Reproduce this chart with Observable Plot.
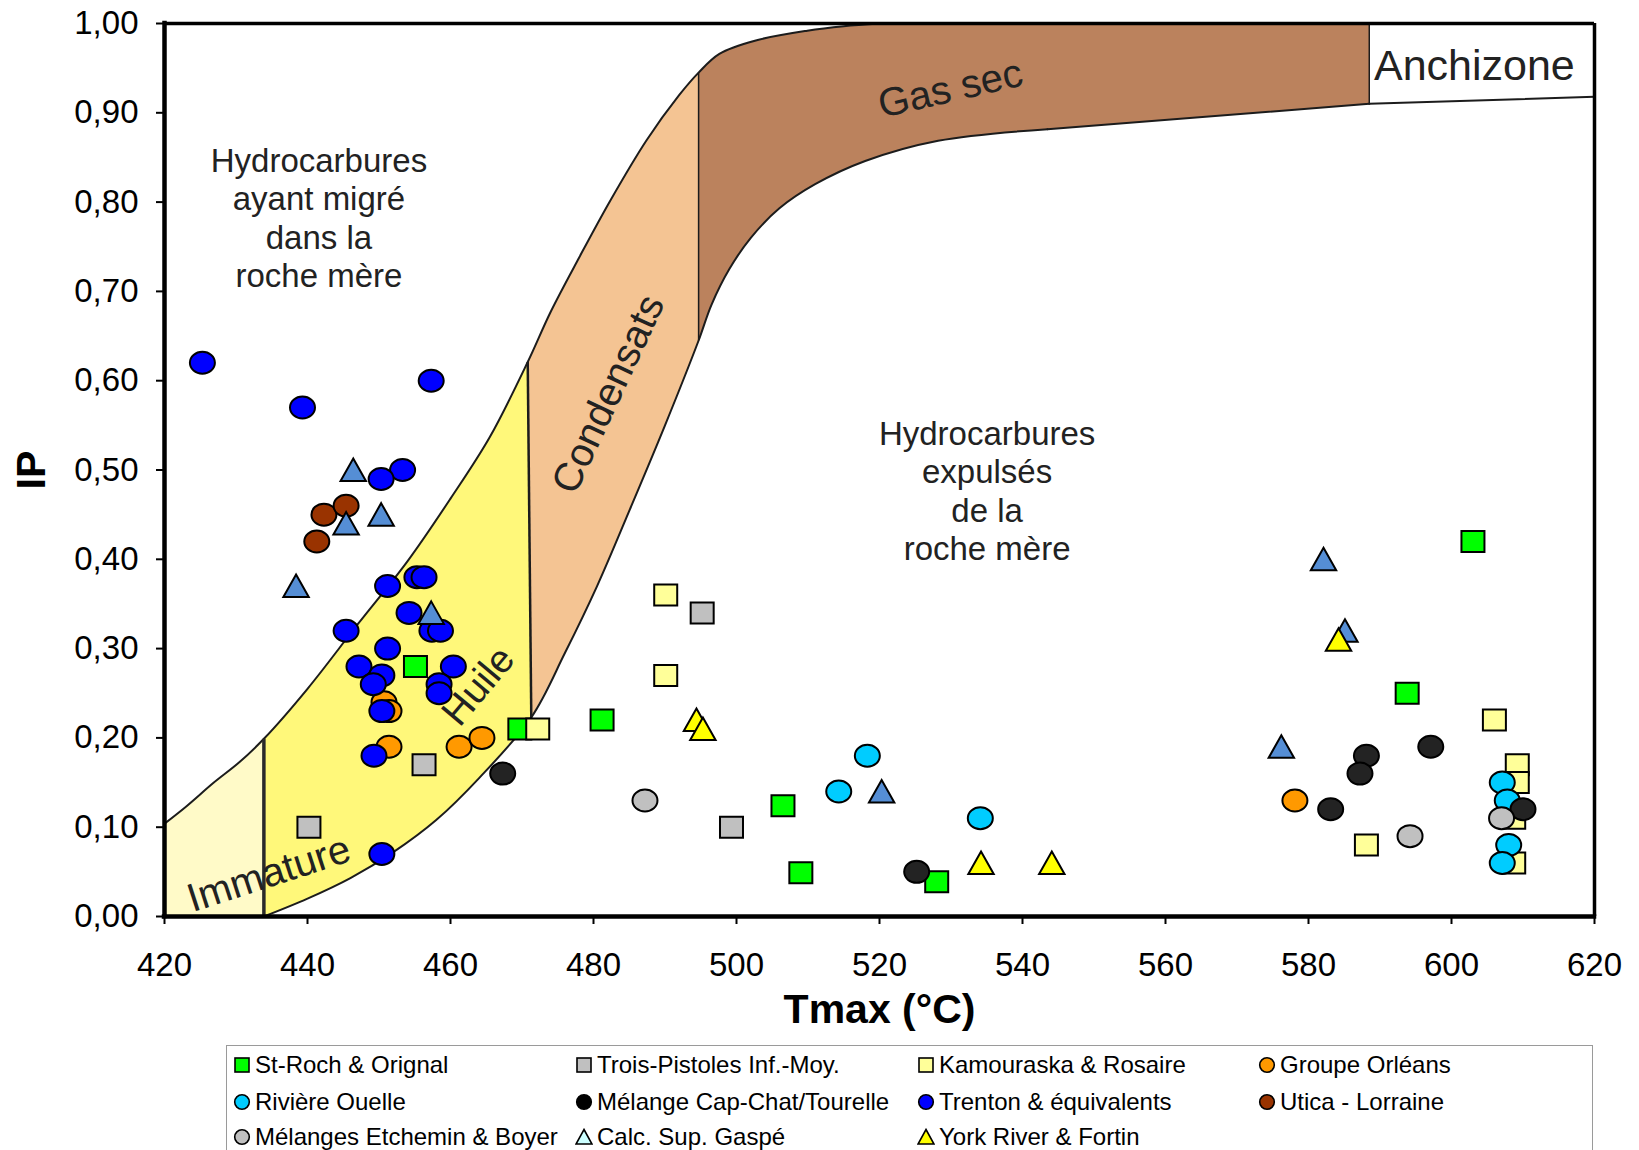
<!DOCTYPE html>
<html><head><meta charset="utf-8">
<script src="https://cdn.jsdelivr.net/npm/d3@7"></script>
<script src="https://cdn.jsdelivr.net/npm/@observablehq/plot@0.6"></script>
<style>
html,body{margin:0;padding:0;background:#fff;}
body{width:1639px;height:1150px;position:relative;overflow:hidden;font-family:"Liberation Sans",Arial,sans-serif;}
#chart{position:absolute;left:0;top:0;}
#legend{position:absolute;left:226px;top:1045px;width:1367px;height:130px;border:1.5px solid #9a9a9a;box-sizing:border-box;background:#fff;}
.item{position:absolute;display:flex;align-items:center;font-size:24px;color:#000;white-space:nowrap;height:30px;line-height:30px;}
.item svg{margin-right:4px;flex:none;}
</style></head><body>
<div id="chart"></div>
<div id="legend"></div>
<script>
// ---------- axes ----------
const xTicks = [420, 440, 460, 480, 500, 520, 540, 560, 580, 600, 620];
const yTicks = [0, 0.1, 0.2, 0.3, 0.4, 0.5, 0.6, 0.7, 0.8, 0.9, 1.0];
const xLabel = "Tmax (°C)";
const yLabel = "IP";

// ---------- series ----------
const seriesNames = ["St-Roch & Orignal", "Trois-Pistoles Inf.-Moy.", "Kamouraska & Rosaire", "Groupe Orléans",
  "Rivière Ouelle", "Mélange Cap-Chat/Tourelle", "Trenton & équivalents", "Utica - Lorraine",
  "Mélanges Etchemin & Boyer", "Calc. Sup. Gaspé", "York River & Fortin"];
const seriesColors = ["#00ff00", "#c0c0c0", "#ffff99", "#ff9900", "#00ccff", "#232323", "#0000ff", "#993300", "#c0c0c0", "#558ed5", "#ffff00"];
const legendColors = ["#00ff00", "#c0c0c0", "#ffff99", "#ff9900", "#00ccff", "#000000", "#0000ff", "#993300", "#c0c0c0", "#ccffff", "#ffff00"];
const seriesShapes = ["square", "square", "square", "circle", "circle", "circle", "circle", "circle", "circle", "triangle", "triangle"];

// [Tmax, IP]
const stRoch = [[455.1,0.28],[469.7,0.21],[481.2,0.22],[506.5,0.124],[509.0,0.049],[528.0,0.039],[593.8,0.25],[603.0,0.42]];
const troisPistoles = [[440.2,0.10],[456.3,0.17],[495.2,0.34],[499.3,0.10]];
const kamouraska = [[472.2,0.21],[490.1,0.36],[490.1,0.27],[588.1,0.08],[606.0,0.22],[609.2,0.17],[609.2,0.15],[608.7,0.11],[608.7,0.06]];
const orleans = [[450.7,0.24],[451.4,0.23],[451.4,0.19],[461.2,0.19],[464.4,0.20],[578.1,0.13]];
const riviereOuelle = [[518.3,0.18],[514.3,0.14],[534.1,0.11],[607.1,0.15],[607.8,0.13],[608.0,0.08],[607.1,0.06]];
const capChat = [[467.3,0.16],[525.2,0.05],[588.1,0.18],[587.2,0.16],[583.1,0.12],[597.1,0.19],[610.0,0.12]];
const trenton = [[425.3,0.62],[439.3,0.57],[457.3,0.60],[453.3,0.50],[450.3,0.49],[451.2,0.37],[455.3,0.38],[456.3,0.38],
  [445.4,0.32],[454.2,0.34],[457.4,0.32],[458.6,0.32],[451.2,0.30],[447.2,0.28],[450.4,0.27],[449.2,0.26],[460.4,0.28],
  [458.4,0.26],[458.4,0.25],[450.4,0.23],[449.3,0.18],[450.4,0.07]];
const utica = [[442.3,0.45],[445.4,0.46],[441.3,0.42]];
const etchemin = [[487.2,0.13],[594.2,0.09],[607.0,0.11]];
const gaspe = [[446.4,0.50],[450.3,0.45],[445.4,0.44],[438.4,0.37],[457.3,0.34],[520.3,0.14],[582.1,0.40],[585.1,0.32],[576.2,0.19]];
const yorkRiver = [[494.4,0.22],[495.3,0.21],[534.2,0.06],[544.1,0.06],[584.2,0.31]];
const seriesData = [stRoch, troisPistoles, kamouraska, orleans, riviereOuelle, capChat, trenton, utica, etchemin, gaspe, yorkRiver];

// ---------- maturity zones (boundaries, [Tmax, IP]) ----------
const immatureUpper = [[420,0.104],[423,0.123],[426.9,0.15],[430.5,0.173],[433.9,0.199]];
const huileUpper = [[433.9,0.199],[440,0.255],[447,0.327],[454,0.398],[460,0.468],[465.5,0.537],[470.8,0.621]];
const huileLower = [[433.9,0.0],[440,0.02],[446,0.043],[452,0.072],[458,0.108],[464,0.155],[471.3,0.223]];
const condUpper = [[470.8,0.621],[474,0.677],[478,0.738],[482.3,0.801],[487.4,0.869],[492,0.92],[494.7,0.945]];
const condLower = [[471.3,0.223],[476,0.295],[480.5,0.37],[485.2,0.458],[490,0.55],[494.7,0.645]];
const gasUpper = [[494.7,0.945],[497.6,0.966],[502.7,0.981],[509.9,0.992],[515,0.997],[520,1.0]];
const gasLower = [[494.7,0.645],[496.5,0.685],[499,0.725],[502,0.76],[506,0.793],[511,0.82],[518,0.846],[528.2,0.8687],[543.5,0.8817]];
const gasLowerStraight = [[543.5,0.8817],[588.5,0.91]];
const anchizoneLine = [[588.5,0.91],[620,0.918]];
const anchizoneTop = [[520,1.0],[588.5,1.0]];

const zoneLabels = ["Immature", "Huile", "Condensats", "Gas sec", "Anchizone"];
const zoneLabelT = [434.6, 463.9, 482.1, 529.9, 603.2];
const zoneLabelIP = [0.0475, 0.258, 0.585, 0.9265, 0.952];

const noteTexts = ["Hydrocarbures\nayant migré\ndans la\nroche mère", "Hydrocarbures\nexpulsés\nde la\nroche mère"];
const noteT = [441.6, 535.05];
const noteIP = [0.783, 0.4773];

// ---------- helpers ----------
const fmtIP = d => d.toFixed(2).replace(".", ",");
// polygon from segments; duplicate segment ends so the curve keeps sharp corners
function polygon(...segs) {
  const out = [];
  for (const s of segs) { out.push(s[0], ...s, s[s.length - 1]); }
  return out;
}
const rev = a => a.slice().reverse();
const K = 0.5523;
const shapes = {
  circle: {draw(ctx) { const rx = 12.5, ry = 11;
    ctx.moveTo(rx, 0);
    ctx.bezierCurveTo(rx, K*ry, K*rx, ry, 0, ry);
    ctx.bezierCurveTo(-K*rx, ry, -rx, K*ry, -rx, 0);
    ctx.bezierCurveTo(-rx, -K*ry, -K*rx, -ry, 0, -ry);
    ctx.bezierCurveTo(K*rx, -ry, rx, -K*ry, rx, 0);
    ctx.closePath(); }},
  square: {draw(ctx) { ctx.rect(-11.5, -10.5, 23, 21); }},
  triangle: {draw(ctx) { ctx.moveTo(0, -11.5); ctx.lineTo(12.7, 11); ctx.lineTo(-12.7, 11); ctx.closePath(); }}
};

const X = d => d[0], Y = d => d[1];
const immaturePoly = polygon([[420,0],[420,0.104]], immatureUpper, [[433.9,0.199],[433.9,0]], [[433.9,0],[420,0]]);
const huilePoly = polygon(huileUpper, [[470.8,0.621],[471.3,0.223]], rev(huileLower), [[433.9,0],[433.9,0.199]]);
const condPoly = polygon(condUpper, [[494.7,0.945],[494.7,0.645]], rev(condLower), [[471.3,0.223],[470.8,0.621]]);
const gasPoly = polygon(gasUpper, anchizoneTop, [[588.5,1.0],[588.5,0.91]], rev(gasLowerStraight), rev(gasLower), [[494.7,0.645],[494.7,0.945]]);
const upperEnvelope = [...immatureUpper, ...huileUpper.slice(1), ...condUpper.slice(1), ...gasUpper.slice(1)];
const lowerEnvelope = [...huileLower, ...condLower.slice(1), ...gasLower.slice(1)];

const ink = "#1c1c1c";
const seg = {x1: d => d[0], y1: d => d[1], x2: d => d[2], y2: d => d[3]};
const marks = [
  Plot.line(immaturePoly, {x: X, y: Y, fill: "#fffac8", stroke: "none", curve: "catmull-rom"}),
  Plot.line(huilePoly, {x: X, y: Y, fill: "#fff87a", stroke: "none", curve: "catmull-rom"}),
  Plot.line(condPoly, {x: X, y: Y, fill: "#f4c493", stroke: "none", curve: "catmull-rom"}),
  Plot.line(gasPoly, {x: X, y: Y, fill: "#bb825d", stroke: "none", curve: "catmull-rom"}),
  Plot.line(upperEnvelope, {x: X, y: Y, stroke: ink, strokeWidth: 2, curve: "catmull-rom"}),
  Plot.line(lowerEnvelope, {x: X, y: Y, stroke: ink, strokeWidth: 2, curve: "catmull-rom"}),
  Plot.line(gasLowerStraight, {x: X, y: Y, stroke: ink, strokeWidth: 2}),
  Plot.line(anchizoneLine, {x: X, y: Y, stroke: ink, strokeWidth: 2}),
  Plot.link([[433.9, 0, 433.9, 0.199]], {...seg, stroke: "#2a2a2a", strokeWidth: 3.5}),
  Plot.link([[471.3, 0.223, 470.8, 0.621]], {...seg, stroke: ink, strokeWidth: 2.5}),
  Plot.link([[494.7, 0.645, 494.7, 0.945]], {...seg, stroke: ink, strokeWidth: 1.5}),
  Plot.link([[588.5, 0.91, 588.5, 1.0]], {...seg, stroke: ink, strokeWidth: 1.5}),
  // frame
  Plot.ruleY([1], {stroke: "#000", strokeWidth: 3.5}),
  Plot.ruleX([620], {stroke: "#000", strokeWidth: 3.5}),
  Plot.ruleX([420], {stroke: "#000", strokeWidth: 4.5, strokeLinecap: "square"}),
  Plot.ruleY([0], {stroke: "#000", strokeWidth: 4.5, strokeLinecap: "square"}),
  Plot.axisX(xTicks, {anchor: "bottom", tickSize: 8, tickPadding: 28, fontSize: 33, strokeWidth: 2, label: null, tickFormat: d => String(d), fill: "#000"}),
  Plot.axisY(yTicks, {anchor: "left", tickSize: 8, tickPadding: 18, fontSize: 33, strokeWidth: 2, label: null, tickFormat: fmtIP, fill: "#000"}),
  Plot.text([xLabel], {frameAnchor: "bottom", dy: 93, lineAnchor: "middle", textAnchor: "middle", text: d => d, fontSize: 41, fontWeight: "bold", fill: "#000"}),
  Plot.text([yLabel], {frameAnchor: "left", dx: -133, lineAnchor: "middle", textAnchor: "middle", text: d => d, rotate: -90, fontSize: 41, fontWeight: "bold", fill: "#000"}),
  // annotations
  Plot.text(noteTexts, {x: (d, i) => noteT[i], y: (d, i) => noteIP[i], text: d => d, fontSize: 33, lineHeight: 1.16, fill: "#222"}),
  ...zoneLabels.map((t, i) => Plot.text([t], {x: () => zoneLabelT[i], y: () => zoneLabelIP[i], text: d => d,
    fontSize: [40, 39, 40, 40, 43][i], rotate: [-18, -50, -65, -13, 0][i], fill: "#222"})),
  // points
  ...seriesData.map((data, i) => Plot.dot(data, {x: X, y: Y, r: 12, symbol: shapes[seriesShapes[i]],
    fill: seriesColors[i], stroke: "#000", strokeWidth: 2}))
];

const chart = Plot.plot({
  width: 1639, height: 1040,
  marginLeft: 164, marginRight: 45, marginTop: 23, marginBottom: 124,
  x: {domain: [420, 620]},
  y: {domain: [0, 1]},
  style: {fontFamily: "'Liberation Sans', Arial, sans-serif", fontSize: "33px", background: "#fff", color: "#000", overflow: "visible"},
  marks
});
document.getElementById("chart").appendChild(chart);

// ---------- legend ----------
const legendEl = document.getElementById("legend");
const colLeft = [6, 348, 690, 1031];
const rowMid = [19, 56, 91];
function legendShape(shape, color) {
  if (shape === "square") return `<rect x="-7" y="-7" width="14" height="14" fill="${color}" stroke="#000" stroke-width="1.6"/>`;
  if (shape === "circle") return `<circle r="7.3" fill="${color}" stroke="#000" stroke-width="1.6"/>`;
  return `<polygon points="0,-7.5 8,7 -8,7" fill="${color}" stroke="#000" stroke-width="1.6"/>`;
}
seriesNames.forEach((name, i) => {
  const col = i % 4, row = Math.floor(i / 4);
  const item = document.createElement("div");
  item.className = "item";
  item.style.left = colLeft[col] + "px";
  item.style.top = (rowMid[row] - 15) + "px";
  item.innerHTML = `<svg width="18" height="18" viewBox="-9 -9 18 18">${legendShape(seriesShapes[i], legendColors[i])}</svg><span>${name}</span>`;
  legendEl.appendChild(item);
});
</script></body></html>
